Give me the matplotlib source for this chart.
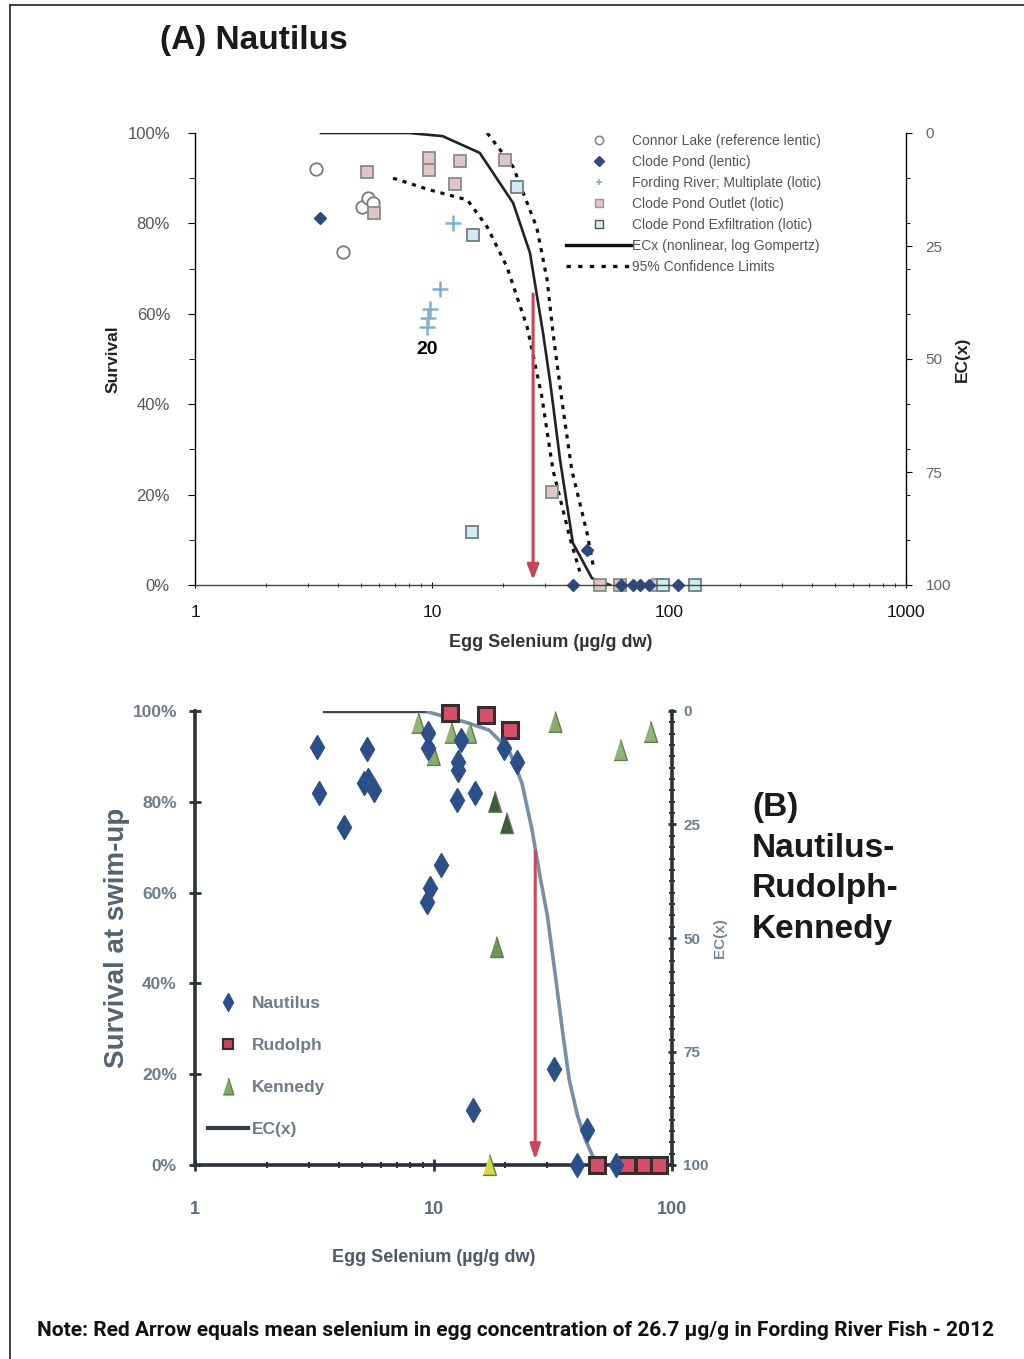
import numpy as np
import matplotlib.pyplot as plt
from matplotlib.lines import Line2D
from matplotlib.ticker import FixedLocator, NullFormatter, MultipleLocator

W, H = 1024, 1359

# ---------------- panel A : Nautilus ----------------
connor_x = [3.24, 4.21, 5.07, 5.37, 5.63]
connor_y = [92.0, 73.7, 83.6, 85.6, 84.5]

clode_x = [3.37, 45.1, 39.3, 63.0, 70.5, 75.3, 82.0, 109.0]
clode_y = [81.2, 7.7, 0, 0, 0, 0, 0, 0]

fording_x = [12.3, 10.8, 9.8, 9.6, 9.5]
fording_y = [80.0, 65.5, 61.0, 59.0, 57.0]

outlet_x = [5.32, 5.69, 9.71, 9.71, 13.1, 12.5, 20.3, 32.1, 51.2, 62.0, 89.5]
outlet_y = [91.4, 82.3, 94.5, 91.8, 93.8, 88.7, 94.0, 20.6, 0, 0, 0]

exfil_x = [22.8, 14.9, 14.7, 94.0, 128.8]
exfil_y = [88.0, 77.4, 11.7, 0, 0]

# log Gompertz ECx curve and 95% limits
ecx_a_x = [3.4, 8.0, 11.1, 15.9, 22.0, 25.9, 29.4, 31.5, 34.7, 39.3, 47.3, 56.4]
ecx_a_y = [100, 100, 99.3, 95.6, 84.5, 73.5, 55.8, 45.0, 27.7, 9.3, 1.5, 0]
ci_hi_x = [17.1, 22.0, 27.7, 30.6, 32.4, 35.5, 38.9, 42.1, 45.1, 48.0]
ci_hi_y = [100, 92.5, 79.0, 67.5, 55.8, 40.0, 25.4, 18.0, 11.5, 4.0]
ci_lo_x = [6.85, 9.8, 14.1, 17.1, 20.7, 25.2, 29.0, 32.4, 35.7, 38.2, 42.0]
ci_lo_y = [90.0, 87.4, 85.2, 79.2, 70.4, 57.1, 42.0, 25.4, 16.6, 10.4, 3.0]

# ---------------- panel B : Nautilus-Rudolph-Kennedy ----------------
naut_x = [3.24, 3.30, 5.27, 5.32, 5.11, 5.63, 4.21, 9.5, 9.5, 12.7, 12.7, 12.5, 14.9,
          13.1, 19.8, 22.4, 10.7, 9.7, 9.4, 14.6, 32.1, 44.2, 40.1, 58.0]
naut_y = [92.1, 81.9, 91.6, 84.8, 84.1, 82.6, 74.4, 95.2, 91.9, 88.8, 87.0, 80.4, 81.9,
          93.6, 91.9, 88.8, 66.1, 61.0, 57.9, 12.1, 21.1, 7.7, 0, 0]

rud_x = [11.7, 16.6, 20.9, 48.7, 65.0, 76.6, 88.6]
rud_y = [99.6, 99.1, 95.8, 0, 0, 0, 0]

ken_x = [8.64, 10.0, 11.9, 14.2, 32.4, 60.9, 81.5, 18.1, 20.3, 18.4, 17.2]
ken_y = [97.4, 90.3, 95.2, 95.2, 97.6, 91.4, 95.4, 80.0, 75.3, 48.0, 0]
ken_shade = ['#93b27a', '#8aa870', '#93b27a', '#93b27a', '#8aa870', '#93b27a', '#93b27a',
             '#3d5a3a', '#3d5a3a', '#6f9457', '#d6d84a']

ecx_b_x = [3.5, 9.16, 13.5, 17.1, 20.7, 23.5, 25.9, 28.0, 30.0, 32.4, 34.7, 37.1, 40.1, 43.4, 47.3, 51.2, 98.0]
ecx_b_y = [100, 100, 97.6, 95.8, 91.4, 84.1, 73.8, 63.4, 55.0, 41.9, 29.7, 18.7, 11.0, 5.5, 1.1, 0, 0]

mean_se = 26.7

fig = plt.figure(figsize=(W / 100, H / 100), dpi=100)
fig.patch.set_facecolor('white')


def px_axes(l, t, r, b):
    return fig.add_axes([l / W, 1 - b / H, (r - l) / W, (b - t) / H])


# page border (scan frame)
fig.add_artist(Line2D([10 / W, 10 / W], [0, 1 - 5 / H], transform=fig.transFigure, color='#222', lw=1.2))
fig.add_artist(Line2D([10 / W, 1], [1 - 5 / H, 1 - 5 / H], transform=fig.transFigure, color='#222', lw=1.2))

fA = 'Liberation Sans'
fB = 'Liberation Sans'
tall_tri = [(-0.32, -0.5), (0.32, -0.5), (0, 0.5)]

# ======== panel A ========
ax1 = px_axes(195, 133, 906, 585)
ax1.set_xscale('log')
ax1.set_xlim(1, 1000)
ax1.set_ylim(0, 100)
for s in ['top', 'right']:
    ax1.spines[s].set_visible(False)
ax1.spines['left'].set_linewidth(1)
ax1.spines['bottom'].set_linewidth(1)
ax1.spines['bottom'].set_color('#444')

ax1.plot(ci_lo_x, ci_lo_y, color='#111', lw=2.3, ls=(0, (1.3, 1.8)))
ax1.plot(ci_hi_x, ci_hi_y, color='#111', lw=2.3, ls=(0, (1.3, 1.8)))
ax1.plot(ecx_a_x, ecx_a_y, color='#222', lw=1.9)
ax1.annotate('', xy=(mean_se, 0.5), xytext=(mean_se, 65),
             arrowprops=dict(arrowstyle='-|>,head_width=0.35,head_length=0.9', color='#c0485a', lw=2.2))

ax1.plot(connor_x, connor_y, ls='none', marker='o', mfc='white', mec='#7a7a7a', ms=9, mew=1.3, clip_on=False)
ax1.plot(outlet_x, outlet_y, ls='none', marker='s', mfc='#dcc6c6', mec='#8a8a8a', ms=9, mew=1.3, clip_on=False)
ax1.plot(exfil_x, exfil_y, ls='none', marker='s', mfc='#d4eaf1', mec='#6e7e8c', ms=9, mew=1.3, clip_on=False)
ax1.plot(fording_x, fording_y, ls='none', marker='+', color='#7fb2c9', ms=11, mew=1.8, clip_on=False)
ax1.plot(clode_x, clode_y, ls='none', marker='D', color='#2c4a7c', ms=6, clip_on=False)

ax1.text(9.5, 52, '20', fontsize=14, fontweight='bold', ha='center', va='center', family=fA)

ax1.xaxis.set_major_locator(FixedLocator([1, 10, 100, 1000]))
ax1.set_xticklabels(['1', '10', '100', '1000'], fontsize=12.5, family=fA, color='#111')
ax1.tick_params(axis='x', which='major', length=5, direction='inout', pad=12)
ax1.tick_params(axis='x', which='minor', length=3, direction='inout')
ax1.xaxis.set_minor_formatter(NullFormatter())
ax1.set_yticks(range(0, 101, 20))
ax1.set_yticklabels([f'{v}%' for v in range(0, 101, 20)], fontsize=12, family=fA, color='#555')
ax1.yaxis.set_minor_locator(MultipleLocator(10))
ax1.tick_params(axis='y', which='major', length=5, direction='out', pad=13)
ax1.tick_params(axis='y', which='minor', length=4, direction='out')
ax1.set_xlabel('Egg Selenium (µg/g dw)', fontsize=13, fontweight='bold', family=fA, color='#333', labelpad=10)
ax1.set_ylabel('Survival', fontsize=12.5, fontweight='bold', family=fA, color='#222', labelpad=5)

ax1r = ax1.twinx()
ax1r.set_ylim(100, 0)
for s in ['top', 'left', 'bottom']:
    ax1r.spines[s].set_visible(False)
ax1r.spines['right'].set_linewidth(1)
ax1r.set_yticks([0, 25, 50, 75, 100])
ax1r.set_yticklabels(['0', '25', '50', '75', '100'], fontsize=11, family=fA, color='#666')
ax1r.yaxis.set_minor_locator(MultipleLocator(10))
ax1r.tick_params(axis='y', which='major', length=4, direction='out', pad=10)
ax1r.tick_params(axis='y', which='minor', length=3, direction='out')
ax1r.set_ylabel('EC(x)', fontsize=12.5, fontweight='bold', family=fA, color='#222', labelpad=3)

handles_a = [
    Line2D([], [], ls='none', marker='o', mfc='white', mec='#888', ms=6, mew=1.2),
    Line2D([], [], ls='none', marker='D', color='#2c4a7c', ms=5),
    Line2D([], [], ls='none', marker='+', color='#7fb2c9', ms=5, mew=1.2),
    Line2D([], [], ls='none', marker='s', mfc='#dcc6c6', mec='#999', ms=6),
    Line2D([], [], ls='none', marker='s', mfc='#d4eaf1', mec='#555', ms=6),
    Line2D([], [], color='#111', lw=2.4),
    Line2D([], [], color='#111', lw=2.4, ls=(0, (1.3, 2.2))),
]
labels_a = ['Connor Lake (reference lentic)', 'Clode Pond (lentic)', 'Fording River; Multiplate (lotic)',
            'Clode Pond Outlet (lotic)', 'Clode Pond Exfiltration (lotic)',
            'ECx (nonlinear, log Gompertz)', '95% Confidence Limits']
leg = ax1.legend(handles_a, labels_a, loc='upper left', bbox_to_anchor=(566 / W, 1 - 134 / H),
                 bbox_transform=fig.transFigure, frameon=False, prop={'family': fA, 'size': 10},
                 handlelength=4.7, handletextpad=0.05, labelspacing=0.5, borderpad=0, borderaxespad=0)
for t in leg.get_texts():
    t.set_color('#555')

fig.text(160 / W, 1 - 40 / H, '(A) Nautilus', fontsize=24, fontweight='bold', family=fA,
         color='#1a1a1a', ha='left', va='center')

# ======== panel B ========
ax2 = px_axes(195, 711, 672, 1165)
ax2.set_xscale('log')
ax2.set_xlim(1, 100)
ax2.set_ylim(0, 100)
for s in ['top', 'right']:
    ax2.spines[s].set_visible(False)
for s in ['left', 'bottom']:
    ax2.spines[s].set_linewidth(2.6)
    ax2.spines[s].set_color('#2b323a')

ax2.plot(ecx_b_x, ecx_b_y, color='#7590a6', lw=2.6, zorder=2)
ax2.plot(ecx_b_x[:2], ecx_b_y[:2], color='#3c4650', lw=3.2, zorder=2)
ax2.annotate('', xy=(mean_se, 0.5), xytext=(mean_se, 69.8),
             arrowprops=dict(arrowstyle='-|>,head_width=0.3,head_length=0.9', color='#c8485c', lw=2.2),
             zorder=3)

ax2.scatter(ken_x, ken_y, marker=tall_tri, s=15 ** 2, c=ken_shade, edgecolors='#5f7d4d', linewidths=1,
            zorder=4, clip_on=False)
ax2.plot(rud_x, rud_y, ls='none', marker='s', mfc='#d4506a', mec='#3a2b2f', ms=12, mew=2.2, zorder=5,
         clip_on=False)
ax2.plot(naut_x, naut_y, ls='none', marker='d', color='#2d4f87', ms=12.5, zorder=6, clip_on=False)

ax2.xaxis.set_major_locator(FixedLocator([1, 10, 100]))
ax2.set_xticklabels(['1', '10', '100'], fontsize=13, family=fB, fontweight='bold', color='#5f6d7b')
ax2.tick_params(axis='x', which='major', length=8, width=2, direction='inout', pad=22, color='#2b323a')
ax2.tick_params(axis='x', which='minor', length=5, width=1.5, direction='inout', color='#2b323a')
ax2.xaxis.set_minor_formatter(NullFormatter())
ax2.set_yticks(range(0, 101, 20))
ax2.set_yticklabels([f'{v}%' for v in range(0, 101, 20)], fontsize=12.5, family=fB, fontweight='bold',
                    color='#6c7c8c')
ax2.tick_params(axis='y', which='major', length=8, width=2, direction='inout', pad=9, color='#2b323a')
ax2.set_xlabel('Egg Selenium (µg/g dw)', fontsize=13, fontweight='bold', family=fB, color='#4c5a68',
               labelpad=22)
ax2.set_ylabel('Survival at swim-up', fontsize=20, fontweight='bold', family=fB,
               color='#55636f', labelpad=2)

ax2r = ax2.twinx()
ax2r.set_ylim(100, 0)
for s in ['top', 'left', 'bottom']:
    ax2r.spines[s].set_visible(False)
ax2r.spines['right'].set_linewidth(2.6)
ax2r.spines['right'].set_color('#2b323a')
ax2r.set_yticks([0, 25, 50, 75, 100])
ax2r.set_yticklabels(['0', '25', '50', '75', '100'], fontsize=11, family=fB, fontweight='bold',
                     color='#6c7c8c')
ax2r.yaxis.set_minor_locator(MultipleLocator(2.5))
ax2r.tick_params(axis='y', which='major', length=6, width=2, direction='inout', pad=5, color='#2b323a')
ax2r.tick_params(axis='y', which='minor', length=4, width=1.4, direction='inout', color='#2b323a')
ax2r.set_ylabel('EC(x)', fontsize=11, fontweight='bold', family=fB, color='#7a8896', labelpad=3)

handles_b = [
    Line2D([], [], ls='none', marker='d', color='#2d4f87', ms=9),
    Line2D([], [], ls='none', marker='s', mfc='#c04a60', mec='#3a2b2f', ms=7, mew=1.5),
    Line2D([], [], ls='none', marker=tall_tri, mfc='#7fae5a', mec='#5f7d4d', ms=12),
    Line2D([], [], color='#333b44', lw=3),
]
leg2 = ax2.legend(handles_b, ['Nautilus', 'Rudolph', 'Kennedy', 'EC(x)'], loc='upper left',
                  bbox_to_anchor=(208 / W, 1 - 996 / H), bbox_transform=fig.transFigure, frameon=False,
                  prop={'family': fB, 'size': 12.5, 'weight': 'bold'}, handlelength=2.3,
                  handletextpad=0.25, labelspacing=1.55, borderpad=0, borderaxespad=0)
for t in leg2.get_texts():
    t.set_color('#6c7c8c')

fig.text(752 / W, 1 - 792 / H, '(B)\nNautilus-\nRudolph-\nKennedy', fontsize=24, fontweight='bold',
         family=fA, color='#1a1a1a', ha='left', va='top', linespacing=1.4)

fig.text(37 / W, 1 - 1330 / H,
         'Note: Red Arrow equals mean selenium in egg concentration of 26.7 µg/g in Fording River Fish - 2012',
         fontsize=15.0, fontweight='bold', family='Roboto', color='#111', ha='left', va='center')

fig.savefig('out.png', dpi=100)
